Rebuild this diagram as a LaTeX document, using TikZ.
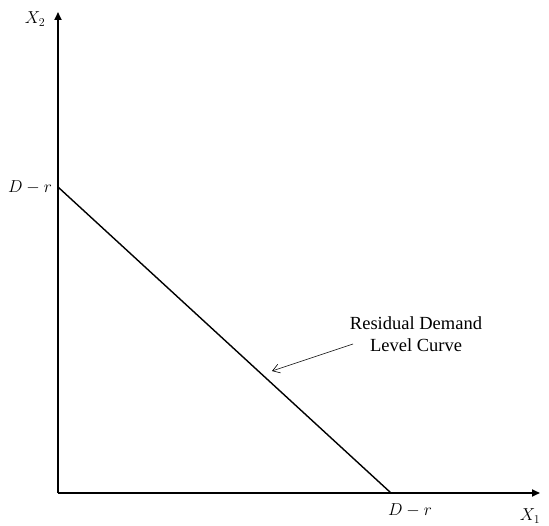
\documentclass[tikz,border=0pt]{standalone}
\usepackage{fontspec}
\setmainfont{Liberation Serif}
\usetikzlibrary{arrows.meta}
\begin{document}
\begin{tikzpicture}[x=1pt,y=-1pt,
  axis/.style={line width=1.8pt,-{Triangle[length=8pt,width=7pt]}},
  curve/.style={line width=1.4pt},
  note/.style={line width=0.6pt,-{Straight Barb[length=7pt,width=9pt]}},
  lab/.style={inner sep=0pt,font=\fontsize{17}{20}\selectfont},
  txt/.style={inner sep=0pt,align=center,font=\fontsize{18.5}{22.5}\selectfont}]
\useasboundingbox (0,0) rectangle (549,526);
\coordinate (O) at (58,493);
\coordinate (ytop) at (58,12);
\coordinate (xend) at (540,493);
\coordinate (A) at (58,187);
\coordinate (B) at (391,493);
\draw[axis] (O) -- (ytop);
\draw[axis] (O) -- (xend);
\draw[curve] (A) -- (B);
\node[lab] (x2) at (35,19) {$X_2$};
\node[lab] (x1) at (530,516) {$X_1$};
\node[lab] (dr1) at (30,187) {$D-r$};
\node[lab] (dr2) at (410,510) {$D-r$};
\node[txt] (t) at (416,334) {Residual Demand\\Level Curve};
\coordinate (as) at (353,344);
\coordinate (ae) at (272,371);
\draw[note] (as) -- (ae);
\end{tikzpicture}
\end{document}
